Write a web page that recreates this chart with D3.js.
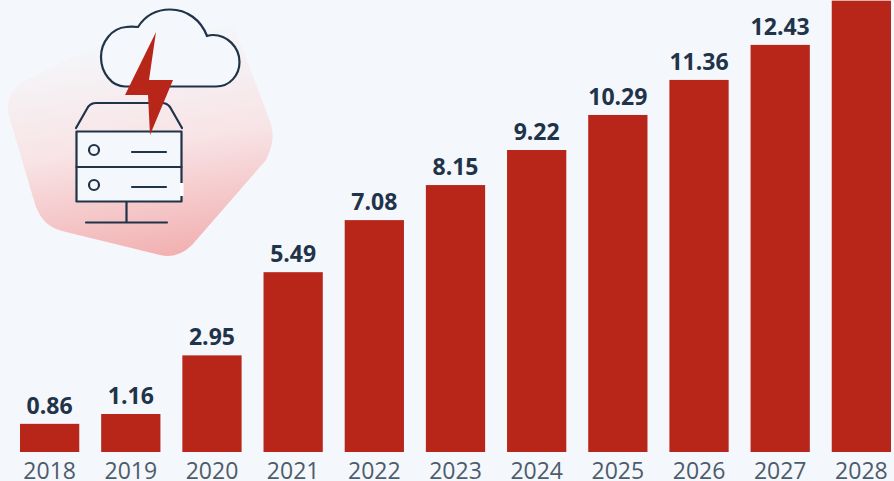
<!DOCTYPE html>
<html>
<head>
<meta charset="utf-8">
<script src="https://cdn.jsdelivr.net/npm/d3@7/dist/d3.min.js"></script>
<style>
  html, body { margin: 0; padding: 0; background: #f4f7fb; overflow: hidden; }
  svg { display: block; }
  text { font-family: "Open Sans", sans-serif; }
</style>
</head>
<body>
<svg id="chart" width="894" height="481"></svg>
<script>
const years = ["2018","2019","2020","2021","2022","2023","2024","2025","2026","2027","2028"];
const values = [0.86, 1.16, 2.95, 5.49, 7.08, 8.15, 9.22, 10.29, 11.36, 12.43, 13.78];
// The 2028 bar runs to the top edge, so its label has no room and is left out.
const valueLabels = ["0.86","1.16","2.95","5.49","7.08","8.15","9.22","10.29","11.36","12.43",null];

const barColor = "#b8261a";
const inkColor = "#1f3349";
const axisColor = "#4d5c6b";

const svg = d3.select("#chart");
const x = d3.scaleBand().domain(years).range([20, 891]).paddingInner(0.27).paddingOuter(0);
const y = d3.scaleLinear().domain([0, 13.8]).range([452, 0]);

// Backdrop blob and icon
const defs = svg.append("defs");
const grad = defs.append("linearGradient").attr("id", "blobFill")
  .attr("x1", 0.42).attr("y1", 0).attr("x2", 0.58).attr("y2", 1);
grad.append("stop").attr("offset", "0.12").attr("stop-color", "#f4f7fb");
grad.append("stop").attr("offset", "0.55").attr("stop-color", "#f8e4e6");
grad.append("stop").attr("offset", "1").attr("stop-color", "#f2b1b2");

const icon = svg.append("g").attr("class", "icon");
icon.append("path")
  .attr("d", "M198,7 Q224,6 234,26 L271,124 Q276,140 266,160 L192,245 Q178,259 160,255 L62,231 Q42,226 35,204 L9,116 Q4,92 26,80 L165,12 Q182,6 198,7 Z")
  .attr("fill", "url(#blobFill)");

const line = icon.append("g")
  .attr("fill", "none").attr("stroke", inkColor)
  .attr("stroke-width", 2.2).attr("stroke-linecap", "round").attr("stroke-linejoin", "round");
line.append("path")
  .attr("d", "M125,86.5 L216,86.5 C230,86.5 239.5,75 239.5,62 C239.5,47 227,35 213,35 Q210,35 207,36 C201,20 187,9.5 170,9.5 C156,9.5 145,16 138,27 C134,26.5 129,26.5 126,27 C112,28 101,42 101,57 C101,73 112,86.5 125,86.5 Z")
  .attr("fill", "#f4f7fb");
line.append("path")
  .attr("d", "M76,128 L88,107 Q91,103 96,103 L162,103 Q167,103 170,107 L182,128");
line.append("rect").attr("x", 76.5).attr("y", 131.5).attr("width", 105).attr("height", 70).attr("fill", "#f4f7fb");
line.append("path").attr("d", "M76.5,167 L181.5,167");
line.append("circle").attr("cx", 94).attr("cy", 150).attr("r", 5);
line.append("circle").attr("cx", 94).attr("cy", 185).attr("r", 5);
line.append("path").attr("d", "M132,152 L166,152 M132,187 L166,187");
line.append("path").attr("d", "M126.5,202 L126.5,222 M86,222.5 L167,222.5");
icon.append("rect").attr("x", 180).attr("y", 183).attr("width", 3.5).attr("height", 13).attr("fill", "#ffffff");
icon.append("polygon")
  .attr("points", "156,32 125,95 148,95 150,135 173,80 149,80")
  .attr("fill", barColor);

// Bars
const rows = years.map((year, i) => ({ year, value: values[i], label: valueLabels[i] }));
svg.append("g").selectAll("rect").data(rows).join("rect")
  .attr("x", d => x(d.year))
  .attr("y", d => y(d.value))
  .attr("width", x.bandwidth())
  .attr("height", d => y(0) - y(d.value))
  .attr("fill", barColor);

// Value labels
svg.append("g").selectAll("text").data(rows.filter(d => d.label)).join("text")
  .attr("x", d => x(d.year) + x.bandwidth() / 2)
  .attr("y", d => y(d.value) - 10)
  .attr("text-anchor", "middle")
  .attr("font-size", 23)
  .attr("font-weight", 700)
  .attr("fill", inkColor)
  .text(d => d.label);

// Year axis
const axis = d3.axisBottom(x).tickSize(0).tickPadding(0);
const axisG = svg.append("g").attr("transform", "translate(0,452)").call(axis);
axisG.select(".domain").remove();
axisG.selectAll("text")
  .attr("y", 27)
  .attr("dy", 0)
  .attr("font-size", 23)
  .attr("font-family", "'Open Sans', sans-serif")
  .attr("fill", axisColor);
</script>
</body>
</html>
